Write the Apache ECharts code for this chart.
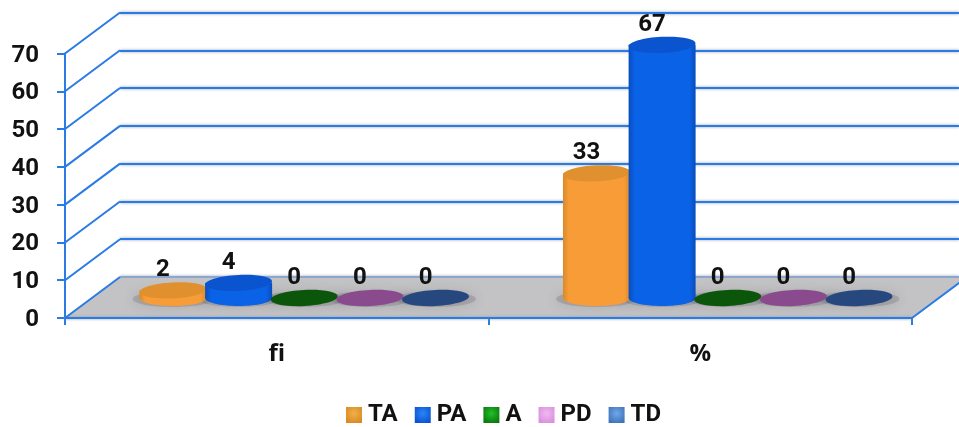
<!DOCTYPE html>
<html>
<head>
<meta charset="utf-8">
<style>html,body{margin:0;padding:0;background:#fff}#c{width:959px;height:427px}</style>
<script src="https://cdn.jsdelivr.net/npm/echarts@6/dist/echarts.min.js"></script>
</head>
<body>
<div id="c"></div>
<script>
// Values
const categories = ['fi', '%'];
const seriesNames = ['TA', 'PA', 'A', 'PD', 'TD'];
const taValues = [2, 33];
const paValues = [4, 67];
const aValues = [0, 0];
const pdValues = [0, 0];
const tdValues = [0, 0];
const yTicks = [0, 10, 20, 30, 40, 50, 60, 70];

// Colours: [edge, middle, top face]
const barColors = [
  ['#d98a2a', '#f89c38', '#e0902f'],
  ['#0a4cbc', '#0a62e6', '#0a55cf'],
  ['#0a4a0a', '#0d5c0d', '#0c560c'],
  ['#7c4484', '#8e4f92', '#8a4a8e'],
  ['#1f3f70', '#27497f', '#26487e']
];
const legendColors = [
  ['#f0b04a', '#d98a22'],
  ['#2a86f5', '#0a52d0'],
  ['#22c02a', '#0a780f'],
  ['#f0b8f2', '#d890dc'],
  ['#70a8e8', '#3f72b8']
];
const valueLists = [taValues, paValues, aValues, pdValues, tdValues];

// Layout of the pseudo-3D box
const FRONT = { left: 65, right: 47, top: 53.5, height: 264.5 };
const WALL = { dx: 55, dy: -41 };
const BAR = { dx: 27.5, dy: -20, slot: 0.155, rx: 33.5, ry: 8, tilt: 0.05 };
const AXIS_BLUE = '#2b7be4';
const FONT = 'Roboto,"Open Sans",sans-serif';

const chart = echarts.init(document.getElementById('c'), null, { renderer: 'canvas' });

// Floor plane under the bars
function renderFloor(params, api) {
  const band = api.size([1, 0])[0];
  const p = api.coord([0, 0]);
  const x0 = p[0] - band / 2, x1 = x0 + band * 2, y = p[1];
  return {
    type: 'group',
    children: [
      { type: 'polygon', shape: { points: [[x0, y], [x1, y], [x1 + WALL.dx, y + WALL.dy], [x0 + WALL.dx, y + WALL.dy]] },
        style: { fill: '#c3c3c5' } },
      { type: 'line', shape: { x1: x0 + WALL.dx, y1: y + WALL.dy, x2: x1 + WALL.dx, y2: y + WALL.dy },
        style: { stroke: '#8da6cc', lineWidth: 2 } },
      { type: 'line', shape: { x1: x0, y1: y, x2: x1, y2: y },
        style: { stroke: AXIS_BLUE, lineWidth: 2, shadowBlur: 3, shadowColor: '#8a97ad' } },
      { type: 'line', shape: { x1: x1, y1: y, x2: x1 + WALL.dx, y2: y + WALL.dy },
        style: { stroke: AXIS_BLUE, lineWidth: 2 } }
    ]
  };
}

// Slanted wall edges joining each front tick to its back gridline
function renderEdge(params, api) {
  const band = api.size([1, 0])[0];
  const p = api.coord([0, api.value(1)]);
  const x = p[0] - band / 2;
  return { type: 'line', shape: { x1: x, y1: p[1], x2: x + WALL.dx, y2: p[1] + WALL.dy },
    style: { stroke: AXIS_BLUE, lineWidth: 2 } };
}

// Soft shadow lying on the floor below a cylinder
function renderShadow(params, api) {
  const band = api.size([1, 0])[0];
  const base = api.coord([api.value(0), 0]);
  const cx = base[0] + BAR.dx + (api.value(1) - 2) * band * BAR.slot;
  return { type: 'ellipse', shape: { cx: cx, cy: base[1] + BAR.dy + 1, rx: BAR.rx + 7, ry: BAR.ry },
    style: { fill: 'rgba(105,105,115,0.28)', shadowBlur: 11, shadowColor: 'rgba(85,85,95,0.75)' } };
}

// One cylinder with its value label
function renderCylinder(seriesIndex) {
  return function (params, api) {
    const band = api.size([1, 0])[0];
    const value = api.value(1);
    const top = api.coord([api.value(0), value]);
    const base = api.coord([api.value(0), 0]);
    const cx = top[0] + BAR.dx + (seriesIndex - 2) * band * BAR.slot;
    const yBase = base[1] + BAR.dy;
    const yTop = top[1] + BAR.dy;
    const c = barColors[seriesIndex];
    const grad = new echarts.graphic.LinearGradient(0, 0, 1, 0, [
      { offset: 0, color: c[0] }, { offset: 0.09, color: c[1] },
      { offset: 0.91, color: c[1] }, { offset: 1, color: c[0] }
    ]);
    const children = [];
    if (value > 0) {
      children.push(
        { type: 'ellipse', shape: { cx: cx, cy: yBase, rx: BAR.rx, ry: BAR.ry }, style: { fill: grad } },
        { type: 'rect', shape: { x: cx - BAR.rx, y: yTop, width: BAR.rx * 2, height: yBase - yTop }, style: { fill: grad } }
      );
    }
    children.push(
      { type: 'ellipse', shape: { cx: cx, cy: yTop, rx: BAR.rx, ry: BAR.ry },
        rotation: BAR.tilt, originX: cx, originY: yTop, style: { fill: c[2] } },
      { type: 'text', x: cx - 10, y: yTop - 20,
        style: { text: String(value), fill: '#111', font: '700 24px ' + FONT, align: 'center', verticalAlign: 'middle' } }
    );
    return { type: 'group', children: children };
  };
}

chart.setOption({
  animation: false,
  backgroundColor: '#ffffff',
  grid: [
    { left: FRONT.left, right: FRONT.right, top: FRONT.top, height: FRONT.height },
    { left: FRONT.left + WALL.dx, right: FRONT.right - WALL.dx, top: FRONT.top + WALL.dy, height: FRONT.height }
  ],
  xAxis: [
    { type: 'category', gridIndex: 0, data: categories,
      axisLine: { lineStyle: { color: AXIS_BLUE, width: 2 } },
      axisTick: { show: true, length: 7, lineStyle: { color: AXIS_BLUE, width: 2 } },
      axisLabel: { margin: 24, color: '#111', fontFamily: '"Open Sans",sans-serif', fontWeight: 700, fontSize: 24 } },
    { type: 'category', gridIndex: 1, data: categories, show: false }
  ],
  yAxis: [
    { type: 'value', gridIndex: 0, min: 0, max: 70, interval: 10,
      splitLine: { show: false },
      axisLine: { show: true, lineStyle: { color: AXIS_BLUE, width: 2 } },
      axisTick: { show: true, length: 8, lineStyle: { color: AXIS_BLUE, width: 2 } },
      axisLabel: { margin: 26, color: '#111', fontFamily: FONT, fontWeight: 700, fontSize: 24, verticalAlign: 'top', lineHeight: 4 } },
    { type: 'value', gridIndex: 1, min: 0, max: 70, interval: 10,
      axisLine: { show: false }, axisTick: { show: false }, axisLabel: { show: false },
      splitLine: { show: true, lineStyle: { color: AXIS_BLUE, width: 2, shadowBlur: 3, shadowColor: '#8a97ad' } } }
  ],
  legend: {
    left: 341, top: 398, icon: 'rect', itemWidth: 16, itemHeight: 16, itemGap: 17,
    textStyle: { color: '#111', fontFamily: FONT, fontWeight: 700, fontSize: 24, padding: [0, 0, 0, 1] },
    data: seriesNames.map((name, i) => ({
      name: name,
      itemStyle: { color: new echarts.graphic.RadialGradient(0.5, 0.4, 0.65, [
        { offset: 0, color: legendColors[i][0] }, { offset: 1, color: legendColors[i][1] }
      ]) }
    }))
  },
  series: [
    { type: 'custom', name: 'floor', z: 1, silent: true, renderItem: renderFloor, data: [[0, 0]] },
    { type: 'custom', name: 'edges', z: 1, silent: true, renderItem: renderEdge, data: yTicks.map(t => [0, t]) },
    { type: 'custom', name: 'shadows', z: 2, silent: true, renderItem: renderShadow,
      data: categories.flatMap((c, k) => seriesNames.map((n, i) => [k, i])) }
  ].concat(seriesNames.map((name, i) => ({
    type: 'custom',
    name: name,
    z: 3 + i,
    renderItem: renderCylinder(i),
    itemStyle: { color: barColors[i][1] },
    encode: { x: 0, y: 1 },
    data: valueLists[i].map((v, k) => [k, v])
  })))
});
</script>
</body>
</html>
